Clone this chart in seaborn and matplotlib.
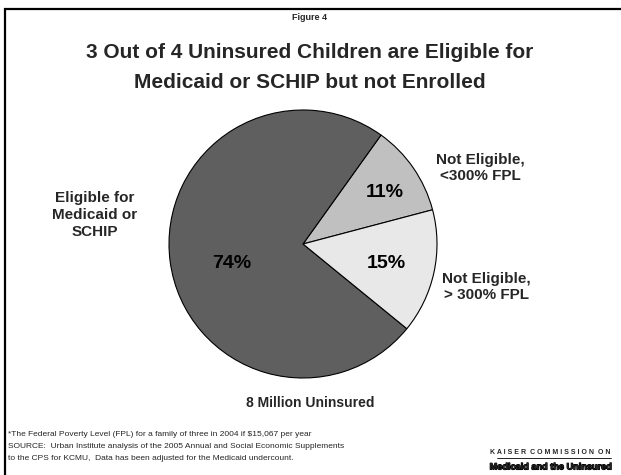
import matplotlib
matplotlib.use("Agg")
import matplotlib.pyplot as plt
import matplotlib.patheffects as pe
import seaborn as sns
import numpy as np
from matplotlib.patches import Rectangle

# Share of uninsured children, in drawing order (counter-clockwise)
categories = ["Not Eligible,\n<300% FPL", "Eligible for\nMedicaid or\nSCHIP", "Not Eligible,\n> 300% FPL"]
shares = [11, 74, 15]
slice_colors = ["#c0c0c0", "#5f5f5f", "#e8e8e8"]

title_line1 = "3 Out of 4 Uninsured Children are Eligible for"
title_line2 = "Medicaid or SCHIP but not Enrolled"
total_label = "8 Million Uninsured"
footnotes = [
    "*The Federal Poverty Level (FPL) for a family of three in 2004 if $15,067 per year",
    "SOURCE:  Urban Institute analysis of the 2005 Annual and Social Economic Supplements",
    "to the CPS for KCMU,  Data has been adjusted for the Medicaid undercount.",
]

sns.set_theme(style="white")
plt.rcParams["font.family"] = ["Liberation Sans", "DejaVu Sans"]

W, H = 621, 475
fig = plt.figure(figsize=(W / 100, H / 100), dpi=100)
fig.patch.set_facecolor("white")

def fx(px):
    return px / W

def fy(py):
    return 1 - py / H

# Slide frame
fig.patches.append(Rectangle((fx(5), fy(490)), fx(640), fy(9) - fy(490),
                             transform=fig.transFigure, fill=False,
                             edgecolor="black", linewidth=1.6))

# Pie axes: centre (303, 244) px, radius 134 px
cx, cy, r = 303, 244, 134
ax = fig.add_axes([fx(cx - r), fy(cy + r), fx(2 * r), (2 * r) / H])
wedges, _ = ax.pie(shares, colors=slice_colors, startangle=14.8,
                   counterclock=True, radius=1,
                   wedgeprops=dict(edgecolor="black", linewidth=0.8))
ax.set_xlim(-1, 1)
ax.set_ylim(-1, 1)
ax.set_aspect("equal")
ax.axis("off")

# Percent labels inside the slices
pct_dist = [0.72, 0.55, 0.64]
pct_shift = [-2.2, 7.5, -1.2]
for w, s, d, sh in zip(wedges, shares, pct_dist, pct_shift):
    ang = np.deg2rad((w.theta1 + w.theta2) / 2 + sh)
    ax.text(d * np.cos(ang), d * np.sin(ang), f"{s}%", ha="center", va="center",
            fontsize=14, fontweight="bold", color="black")

# Category labels outside the pie
label_pos = [(480, 168), (95, 215), (486, 287)]
for txt, (x, y) in zip(categories, label_pos):
    fig.text(fx(x), fy(y), txt, ha="center", va="center", fontsize=11,
             fontweight="bold", linespacing=1.25)

fig.text(fx(310), fy(17), "Figure 4", ha="center", va="center",
         fontsize=6.5, fontweight="bold")
fig.text(fx(310), fy(52), title_line1, ha="center", va="center",
         fontsize=15, fontweight="bold")
fig.text(fx(310), fy(82), title_line2, ha="center", va="center",
         fontsize=15, fontweight="bold")
fig.text(fx(310), fy(403), total_label, ha="center", va="center",
         fontsize=10, fontweight="bold")

for i, line in enumerate(footnotes):
    fig.text(fx(8), fy(435 + i * 11.5), line, ha="left", va="center", fontsize=6.0)

fig.text(fx(611), fy(453), "K A I S E R  C O M M I S S I O N  O N", ha="right",
         va="center", fontsize=5.0, fontweight="bold")
fig.add_artist(plt.Line2D([fx(497), fx(611)], [fy(457.5), fy(457.5)],
                          transform=fig.transFigure, color="black", linewidth=0.6))
fig.text(fx(612), fy(467), "Medicaid and the Uninsured", ha="right", va="center",
         fontsize=6.6, fontweight="heavy",
         path_effects=[pe.withStroke(linewidth=0.8, foreground="black")])

fig.savefig("out.png", dpi=100, facecolor="white")
